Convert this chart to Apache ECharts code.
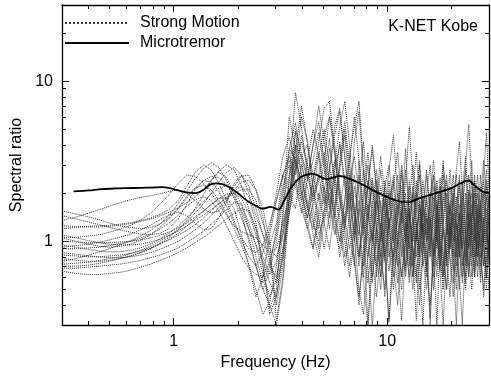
<!DOCTYPE html>
<html>
<head>
  <meta charset="utf-8">
  <title>K-NET Kobe spectral ratio</title>
  <script src="https://cdn.jsdelivr.net/npm/echarts@6/dist/echarts.min.js"></script>
  <style>
    html, body { margin: 0; padding: 0; background: #fff; }
    #chart { width: 491px; height: 379px; }
  </style>
</head>
<body>
<div id="chart"></div>
<script>
  // frequency grid (Hz) shared by the strong motion curves
  var freq = [0.30,0.35,0.40,0.45,0.50,0.56,0.63,0.70,0.78,0.86,
              0.95,1.05,1.15,1.26,1.38,1.50,1.63,1.77,1.92,2.08,
              2.25,2.43,2.62,2.82,3.03,3.25,3.48,3.72,3.97,4.23,
              4.50,4.78,5.07,5.37,5.68,6.00,6.33,6.67,7.02,7.38,
              7.75,8.13,8.52,8.92,9.33,9.75,10.2,10.7,11.2,11.7,
              12.2,12.7,13.2,13.7,14.2,14.7,15.3,15.9,16.5,17.1,
              17.7,18.3,19.0,19.7,20.4,21.1,21.8,22.5,23.3,24.1,
              24.9,25.7,26.5,27.4,28.3,29.2,30.0];

  // strong motion spectral ratios
  var sm1 = [1.05,1.00,0.96,0.93,0.92,0.93,0.96,1.02,1.10,1.22,
             1.38,1.60,1.85,2.15,2.40,2.55,2.50,2.25,1.90,1.55,
             1.20,0.95,0.75,0.55,0.45,0.80,2.50,8.50,5.20,2.60,
             1.80,2.40,3.60,2.20,1.40,2.80,4.60,2.10,1.10,3.20,
             1.20,0.30,0.90,2.10,1.00,0.45,1.60,2.40,0.90,1.50,
             3.80,1.40,0.70,1.20,0.50,0.90,1.80,1.10,0.60,1.40,
             2.20,0.90,0.50,1.30,0.80,1.60,2.40,1.00,0.55,1.70,
             3.20,1.20,0.70,1.50,0.90,0.50,1.10];
  var sm2 = [0.72,0.73,0.74,0.76,0.78,0.80,0.84,0.88,0.93,1.00,
             1.08,1.18,1.32,1.50,1.72,2.00,2.35,2.70,2.90,2.60,
             2.00,1.45,1.10,0.90,0.80,1.10,1.80,3.20,2.40,1.60,
             2.40,4.20,6.80,7.50,3.60,1.80,1.20,2.20,1.40,0.70,
             1.80,3.00,1.30,0.60,1.10,2.40,1.30,0.70,1.60,2.80,
             1.20,0.55,1.00,1.90,3.00,1.20,0.70,1.40,0.80,0.30,
             1.00,1.80,2.60,1.10,0.65,1.20,0.80,1.50,2.80,1.30,
             0.60,0.90,1.70,1.00,0.45,0.80,1.40];
  var sm3 = [1.55,1.48,1.42,1.36,1.30,1.25,1.22,1.20,1.22,1.28,
             1.40,1.62,1.90,2.15,2.25,2.10,1.80,1.50,1.20,0.95,
             0.72,0.50,0.35,0.42,0.70,1.40,3.80,5.50,3.20,1.80,
             1.30,1.00,1.60,2.80,5.20,6.80,3.40,1.60,2.60,1.30,
             0.60,1.40,2.50,1.50,0.80,0.50,1.20,1.80,1.10,0.60,
             1.30,2.40,1.50,0.80,1.10,1.90,1.20,0.30,0.90,1.70,
             1.10,0.60,1.40,2.80,1.50,0.90,0.50,1.20,1.80,0.90,
             1.40,2.20,1.20,0.60,1.30,2.40,1.60];
  var sm4 = [0.85,0.83,0.81,0.80,0.79,0.79,0.80,0.82,0.85,0.89,
             0.94,1.00,1.08,1.18,1.30,1.45,1.62,1.85,2.10,2.35,
             2.40,2.10,1.60,1.00,0.32,0.60,1.50,3.00,6.00,4.20,
             2.10,1.20,2.00,3.80,2.50,1.40,0.80,1.50,4.20,6.50,
             2.60,1.00,0.55,1.20,2.20,1.40,0.80,1.30,2.60,1.40,
             0.65,1.10,2.00,1.30,0.70,0.30,0.90,1.60,2.60,1.20,
             0.70,1.20,0.80,0.45,1.10,1.90,1.20,0.70,1.00,2.10,
             1.20,0.65,1.40,2.60,1.30,0.75,1.00];
  var sm5 = [1.20,1.22,1.24,1.25,1.26,1.28,1.31,1.35,1.40,1.47,
             1.58,1.80,2.20,2.70,3.00,2.80,2.30,1.80,1.35,1.00,
             0.80,0.70,0.85,1.20,2.00,3.40,4.50,3.00,1.80,1.20,
             0.90,1.40,2.20,1.60,3.00,5.20,7.50,4.00,1.50,0.80,
             1.30,2.20,3.80,2.00,1.00,1.60,2.80,4.60,2.00,1.10,
             0.70,1.40,2.20,1.30,0.80,1.60,2.80,1.60,1.00,0.60,
             1.30,2.20,1.40,0.90,1.60,2.80,4.20,2.00,1.10,0.70,
             1.40,2.00,1.10,1.80,3.20,1.80,1.20];
  var sm6 = [0.95,0.92,0.89,0.87,0.86,0.86,0.88,0.91,0.96,1.03,
             1.12,1.24,1.40,1.58,1.78,1.98,2.15,2.22,2.05,1.70,
             1.30,0.95,0.62,0.45,0.58,1.10,2.40,4.00,3.40,2.40,
             3.20,4.80,3.00,1.70,1.10,1.60,2.60,1.50,0.80,0.40,
             0.90,1.70,1.00,1.50,2.80,1.60,0.90,0.50,1.00,1.60,
             1.00,1.80,3.00,1.70,0.90,1.30,0.70,0.40,0.80,1.50,
             2.50,1.40,0.80,1.20,2.00,1.10,0.60,0.30,0.90,1.50,
             0.80,1.30,2.20,1.20,0.70,1.10,1.80];
  var sm7 = [0.68,0.68,0.69,0.70,0.71,0.72,0.74,0.76,0.79,0.82,
             0.86,0.91,0.98,1.06,1.16,1.28,1.42,1.58,1.75,1.70,
             1.20,0.80,0.55,0.70,1.20,2.20,3.00,2.20,1.50,2.40,
             4.00,5.60,3.20,1.80,1.20,0.90,1.40,2.60,1.60,1.00,
             0.55,0.30,0.70,1.20,0.80,1.40,2.00,1.10,0.70,0.32,
             0.90,1.50,0.90,0.60,1.20,2.40,1.40,0.80,1.50,2.20,
             1.30,0.80,0.50,1.00,1.50,0.90,1.40,2.30,1.30,0.80,
             0.50,1.00,1.60,0.90,1.40,1.00,0.70];
  var sm8 = [1.05,1.06,1.08,1.10,1.14,1.19,1.26,1.36,1.50,1.70,
             1.95,2.30,2.60,2.55,2.30,2.00,1.70,1.45,1.25,1.15,
             1.10,1.05,0.95,0.85,0.90,1.30,2.00,3.60,7.00,4.20,
             2.20,1.40,0.90,1.50,2.80,4.00,2.20,1.20,0.70,1.50,
             2.80,1.60,0.80,0.45,0.90,1.80,1.20,2.20,3.60,1.80,
             1.00,0.60,1.20,2.00,1.20,0.70,1.00,1.90,3.20,1.70,
             0.90,0.50,1.10,1.80,1.00,0.60,1.20,0.90,1.60,2.60,
             1.40,0.80,1.00,0.55,1.20,1.90,1.30];
  var sm9 = [1.35,1.42,1.50,1.58,1.66,1.74,1.82,1.88,1.93,1.98,
             2.05,2.10,2.00,1.80,1.60,1.50,1.55,1.80,2.30,2.60,
             2.20,1.60,1.10,0.75,0.55,0.80,1.60,2.80,4.20,3.00,
             1.90,2.60,4.50,6.00,4.00,2.20,1.40,0.90,1.30,2.60,
             1.40,0.80,1.20,2.40,1.60,0.90,0.31,0.80,1.40,2.20,
             1.50,0.80,0.50,1.00,1.70,1.10,2.00,3.00,1.50,0.90,
             1.50,2.60,1.40,0.80,0.55,1.00,1.70,1.20,0.70,1.30,
             2.40,1.40,0.80,1.20,2.00,1.20,0.80];
  var sm10 = [0.90,0.90,0.91,0.92,0.94,0.97,1.00,1.05,1.11,1.19,
              1.30,1.45,1.65,1.82,1.90,1.80,1.55,1.25,1.00,0.80,
              0.68,0.62,0.60,0.75,1.10,2.00,3.80,3.20,2.00,1.40,
              2.00,3.40,5.00,3.00,1.60,1.00,1.80,3.40,5.20,7.50,
              3.00,1.20,0.60,1.00,1.80,1.10,0.65,1.20,2.00,1.30,
              2.40,5.20,2.40,1.20,0.70,1.10,1.90,1.20,0.70,1.40,
              2.20,1.20,0.75,1.40,2.20,1.30,0.80,1.60,3.00,5.40,
              2.40,1.20,0.80,1.40,2.60,4.80,2.00];
  var sm11 = [0.78,0.76,0.75,0.75,0.76,0.78,0.81,0.85,0.90,0.97,
              1.06,1.18,1.35,1.60,1.95,2.40,2.70,2.50,2.00,1.50,
              1.00,0.70,0.50,0.40,0.30,0.55,1.80,5.00,3.60,2.50,
              4.00,7.00,4.20,2.40,1.40,0.80,1.20,2.00,1.10,0.50,
              0.35,0.80,1.60,2.80,1.50,0.80,1.40,0.70,0.40,0.90,
              1.60,1.00,0.60,1.30,0.80,1.50,2.60,1.40,0.80,1.10,
              0.65,1.30,2.00,1.20,0.70,0.30,0.90,1.50,1.00,0.60,
              1.10,1.80,1.00,0.70,1.20,0.80,0.50];
  var sm12 = [1.10,1.05,1.01,0.98,0.96,0.95,0.95,0.96,0.99,1.03,
              1.09,1.16,1.25,1.35,1.46,1.58,1.72,1.86,2.00,2.10,
              2.10,1.80,1.30,0.95,1.30,2.60,3.20,2.40,1.60,1.20,
              1.70,2.60,1.70,2.80,4.60,6.50,3.40,1.80,1.00,1.60,
              1.00,0.55,1.00,1.80,3.40,2.00,1.20,0.80,1.40,2.60,
              1.40,0.90,1.40,2.40,1.40,0.80,0.50,1.00,1.60,1.00,
              1.70,3.20,1.70,1.00,1.80,1.20,2.20,1.40,0.80,1.50,
              1.00,0.60,1.20,2.20,1.60,1.00,1.50];
  var sm13 = [0.65,0.63,0.62,0.62,0.63,0.64,0.66,0.69,0.72,0.76,
              0.80,0.85,0.91,0.98,1.06,1.15,1.26,1.38,1.50,1.60,
              1.55,1.20,0.70,0.38,0.50,1.60,6.00,3.80,2.00,1.30,
              0.90,1.60,2.60,4.40,2.20,1.20,0.70,1.10,2.20,1.30,
              0.70,1.30,2.40,1.20,0.60,1.10,1.80,0.90,0.55,1.20,
              2.00,1.10,0.70,1.50,2.60,1.40,0.80,0.33,1.00,1.80,
              1.00,0.60,1.30,2.20,1.30,0.70,1.10,1.90,1.10,0.60,
              1.30,2.40,1.30,0.80,1.00,1.60,0.90];
  var sm14 = [1.45,1.38,1.32,1.27,1.22,1.18,1.14,1.11,1.10,1.12,
              1.20,1.38,1.70,2.10,2.40,2.35,2.05,1.65,1.30,1.05,
              0.90,0.85,0.95,1.30,1.80,2.60,3.40,2.60,4.60,3.00,
              1.60,1.10,1.40,2.20,3.20,2.00,1.30,2.40,3.40,2.00,
              1.10,1.60,2.20,1.20,0.70,1.30,2.40,1.40,0.80,0.50,
              1.10,1.70,1.00,2.00,3.20,1.60,1.00,1.40,0.80,1.20,
              2.00,1.20,0.70,1.10,1.80,2.60,1.40,0.80,0.50,1.10,
              1.70,1.00,2.00,1.20,0.70,1.30,2.00];
  var sm15 = [1.00,0.99,0.98,0.98,0.98,0.99,1.00,1.02,1.05,1.09,
              1.14,1.21,1.30,1.42,1.55,1.70,1.85,1.97,2.00,1.85,
              1.50,1.10,0.80,0.62,0.75,1.20,2.00,2.80,3.40,4.00,
              2.60,1.80,3.20,6.00,3.50,2.00,1.20,0.70,1.20,2.20,
              4.20,2.00,1.10,0.70,1.30,0.80,0.32,1.00,1.70,1.00,
              0.60,1.20,2.00,3.60,1.80,1.00,0.60,1.30,2.20,1.30,
              0.80,1.40,2.40,1.40,0.80,0.50,1.20,2.10,3.40,1.60,
              0.90,0.60,1.20,1.80,1.00,2.20,1.20];
  var sm16 = [0.75,0.78,0.82,0.86,0.90,0.95,1.01,1.08,1.17,1.28,
              1.45,1.72,2.05,2.45,2.85,3.10,2.90,2.40,1.85,1.40,
              1.05,0.70,0.50,0.65,1.00,1.80,2.60,4.80,2.60,1.60,
              1.20,2.00,1.30,0.90,1.60,3.20,5.60,3.00,1.60,1.10,
              2.00,3.60,1.80,1.00,0.60,1.20,2.10,1.20,0.70,1.40,
              2.80,1.50,0.80,0.32,0.90,1.60,1.00,1.80,2.60,1.50,
              0.85,0.50,1.00,1.70,1.00,1.50,2.60,1.30,0.75,1.20,
              2.00,1.10,0.60,1.00,1.80,2.80,1.40];
  var sm17 = [0.92,0.94,0.96,0.99,1.02,1.06,1.11,1.18,1.26,1.36,
              1.46,1.52,1.45,1.30,1.18,1.20,1.40,1.75,2.20,2.55,
              2.60,2.10,1.40,0.80,0.40,0.70,2.00,3.40,2.20,1.40,
              2.40,3.60,2.00,1.20,2.20,4.20,2.40,1.40,0.75,0.45,
              0.80,1.50,1.00,1.80,1.20,2.20,3.00,1.60,0.90,0.60,
              1.00,1.60,0.90,0.55,1.10,1.80,1.10,2.00,1.20,0.70,
              1.20,1.90,1.10,1.60,2.60,1.50,0.90,0.55,1.10,1.80,
              1.10,1.60,2.60,1.50,0.90,0.60,1.20];
  var sm18 = [0.70,0.70,0.71,0.73,0.75,0.78,0.81,0.85,0.90,0.96,
              1.03,1.12,1.24,1.38,1.54,1.70,1.85,1.88,1.60,1.10,
              0.70,0.45,0.60,1.10,1.80,2.60,2.00,1.60,3.00,2.20,
              1.40,0.90,1.50,2.40,1.60,3.00,5.00,2.60,1.40,0.80,
              1.40,2.40,1.50,0.80,0.50,1.00,1.60,2.60,1.40,0.80,
              1.30,0.70,1.40,1.00,1.80,1.10,0.65,1.20,1.90,1.10,
              0.65,0.30,0.90,1.40,0.85,1.30,1.00,0.60,1.20,2.00,
              1.20,0.70,1.10,1.70,1.00,0.60,0.90];
  var sm19 = [1.25,1.24,1.23,1.23,1.24,1.26,1.29,1.33,1.38,1.44,
              1.52,1.62,1.74,1.90,2.10,2.40,2.75,3.00,2.80,2.20,
              1.60,1.20,0.90,0.70,0.60,0.90,1.50,2.40,1.80,3.20,
              5.00,3.40,2.00,1.40,2.60,1.80,1.00,0.60,1.00,1.80,
              1.20,2.20,4.00,2.20,1.20,0.75,1.40,1.00,1.80,3.00,
              1.60,0.90,0.60,1.10,1.60,0.90,1.50,1.00,0.50,1.10,
              1.80,3.00,1.60,0.90,1.40,0.80,1.50,0.90,2.00,1.20,
              0.70,1.40,0.90,1.60,2.40,1.30,0.80];
  var sm20 = [0.82,0.81,0.80,0.80,0.81,0.82,0.84,0.87,0.91,0.96,
              1.02,1.09,1.17,1.27,1.40,1.55,1.72,1.90,2.08,2.20,
              1.90,1.30,0.70,0.35,0.45,0.90,1.80,4.00,2.60,1.70,
              1.10,0.80,1.30,2.00,1.40,1.00,1.80,3.20,6.00,3.20,
              1.60,0.70,0.30,0.70,1.20,2.00,1.10,0.60,1.00,1.80,
              1.00,2.20,1.30,0.70,0.40,0.80,1.40,0.90,1.60,2.40,
              1.30,0.70,1.20,0.75,0.45,0.90,1.50,0.90,0.60,1.00,
              1.60,2.60,1.40,0.80,0.50,0.90,1.40];
  var strongMotion = [sm1, sm2, sm3, sm4, sm5, sm6, sm7, sm8, sm9, sm10,
                      sm11, sm12, sm13, sm14, sm15, sm16, sm17, sm18, sm19, sm20];

  // microtremor H/V ratio
  var mtFreq = [0.34,0.40,0.46,0.53,0.60,0.70,0.80,0.88,0.96,1.05,
                1.15,1.27,1.38,1.48,1.60,1.80,2.00,2.20,2.40,2.60,
                2.85,3.10,3.30,3.50,3.90,4.50,5.20,6.00,6.70,7.50,
                8.50,9.50,11.0,12.5,14.0,16.0,18.0,20.0,22.0,24.0,
                26.0,28.0,30.0];
  var mtRatio = [2.05,2.08,2.12,2.14,2.15,2.16,2.17,2.18,2.15,2.08,
                 2.02,2.00,2.10,2.26,2.30,2.20,2.00,1.80,1.68,1.60,
                 1.64,1.58,1.80,2.10,2.50,2.64,2.45,2.56,2.45,2.30,
                 2.10,1.95,1.80,1.75,1.85,1.95,2.05,2.15,2.30,2.40,
                 2.20,2.05,2.00];

  // ticks
  var majorTicks = [1, 10];
  var minorTicks = [0.3,0.4,0.5,0.6,0.7,0.8,0.9,2,3,4,5,6,7,8,9,20,30];

  var font = 'Liberation Sans, Arial, sans-serif';
  var chart = echarts.init(document.getElementById('chart'));

  function axis(pos, ticks, len, withLine, withLabel, extra) {
    var a = {
      type: 'log',
      position: pos,
      min: 0.3,
      max: 30,
      axisLine: { show: withLine, lineStyle: { color: '#000', width: 1.3 } },
      axisTick: { show: true, inside: true, length: len, customValues: ticks,
                  lineStyle: { color: '#000', width: 1 } },
      axisLabel: { show: withLabel, customValues: ticks, color: '#000',
                   fontSize: 16, fontFamily: font, margin: 9 },
      splitLine: { show: false },
      minorTick: { show: false }
    };
    for (var k in extra) a[k] = extra[k];
    return a;
  }

  var series = strongMotion.map(function (vals) {
    return {
      name: 'Strong Motion',
      type: 'line',
      symbol: 'none',
      xAxisIndex: 0,
      yAxisIndex: 0,
      itemStyle: { color: '#333' },
      lineStyle: { color: '#333', width: 1, type: 'dotted' },
      data: freq.map(function (f, i) { return [f, vals[i]]; }),
      z: 2
    };
  });
  series.push({
    name: 'Microtremor',
    type: 'line',
    symbol: 'none',
    smooth: 0.3,
    xAxisIndex: 0,
    yAxisIndex: 0,
    itemStyle: { color: '#000' },
    lineStyle: { color: '#000', width: 1.8 },
    data: mtFreq.map(function (f, i) { return [f, mtRatio[i]]; }),
    z: 3
  });

  chart.setOption({
    animation: false,
    backgroundColor: '#fff',
    title: {
      text: 'K-NET Kobe',
      right: 8,
      top: 14,
      textStyle: { fontSize: 16, fontWeight: 'normal', color: '#000', fontFamily: font }
    },
    legend: {
      data: ['Strong Motion', 'Microtremor'],
      orient: 'vertical',
      left: 59,
      top: 10,
      itemWidth: 64,
      itemHeight: 16,
      itemGap: 4,
      itemStyle: { opacity: 0 },
      textStyle: { fontSize: 16, color: '#000', fontFamily: font, padding: [0, 0, 0, 6] }
    },
    grid: { left: 62, right: 2, top: 5, bottom: 54 },
    xAxis: [
      axis('bottom', majorTicks, 7, true, true, {
        name: 'Frequency (Hz)', nameLocation: 'middle', nameGap: 30,
        nameTextStyle: { fontSize: 16, color: '#000', fontFamily: font }
      }),
      axis('bottom', minorTicks, 4, false, false, {}),
      axis('top', majorTicks, 7, true, false, {}),
      axis('top', minorTicks, 4, false, false, {})
    ],
    yAxis: [
      axis('left', majorTicks, 7, true, true, {
        name: 'Spectral ratio', nameLocation: 'middle', nameGap: 34,
        nameTextStyle: { fontSize: 16, color: '#000', fontFamily: font }
      }),
      axis('left', minorTicks, 4, false, false, {}),
      axis('right', majorTicks, 7, true, false, {}),
      axis('right', minorTicks, 4, false, false, {})
    ],
    series: series
  });
</script>
</body>
</html>
